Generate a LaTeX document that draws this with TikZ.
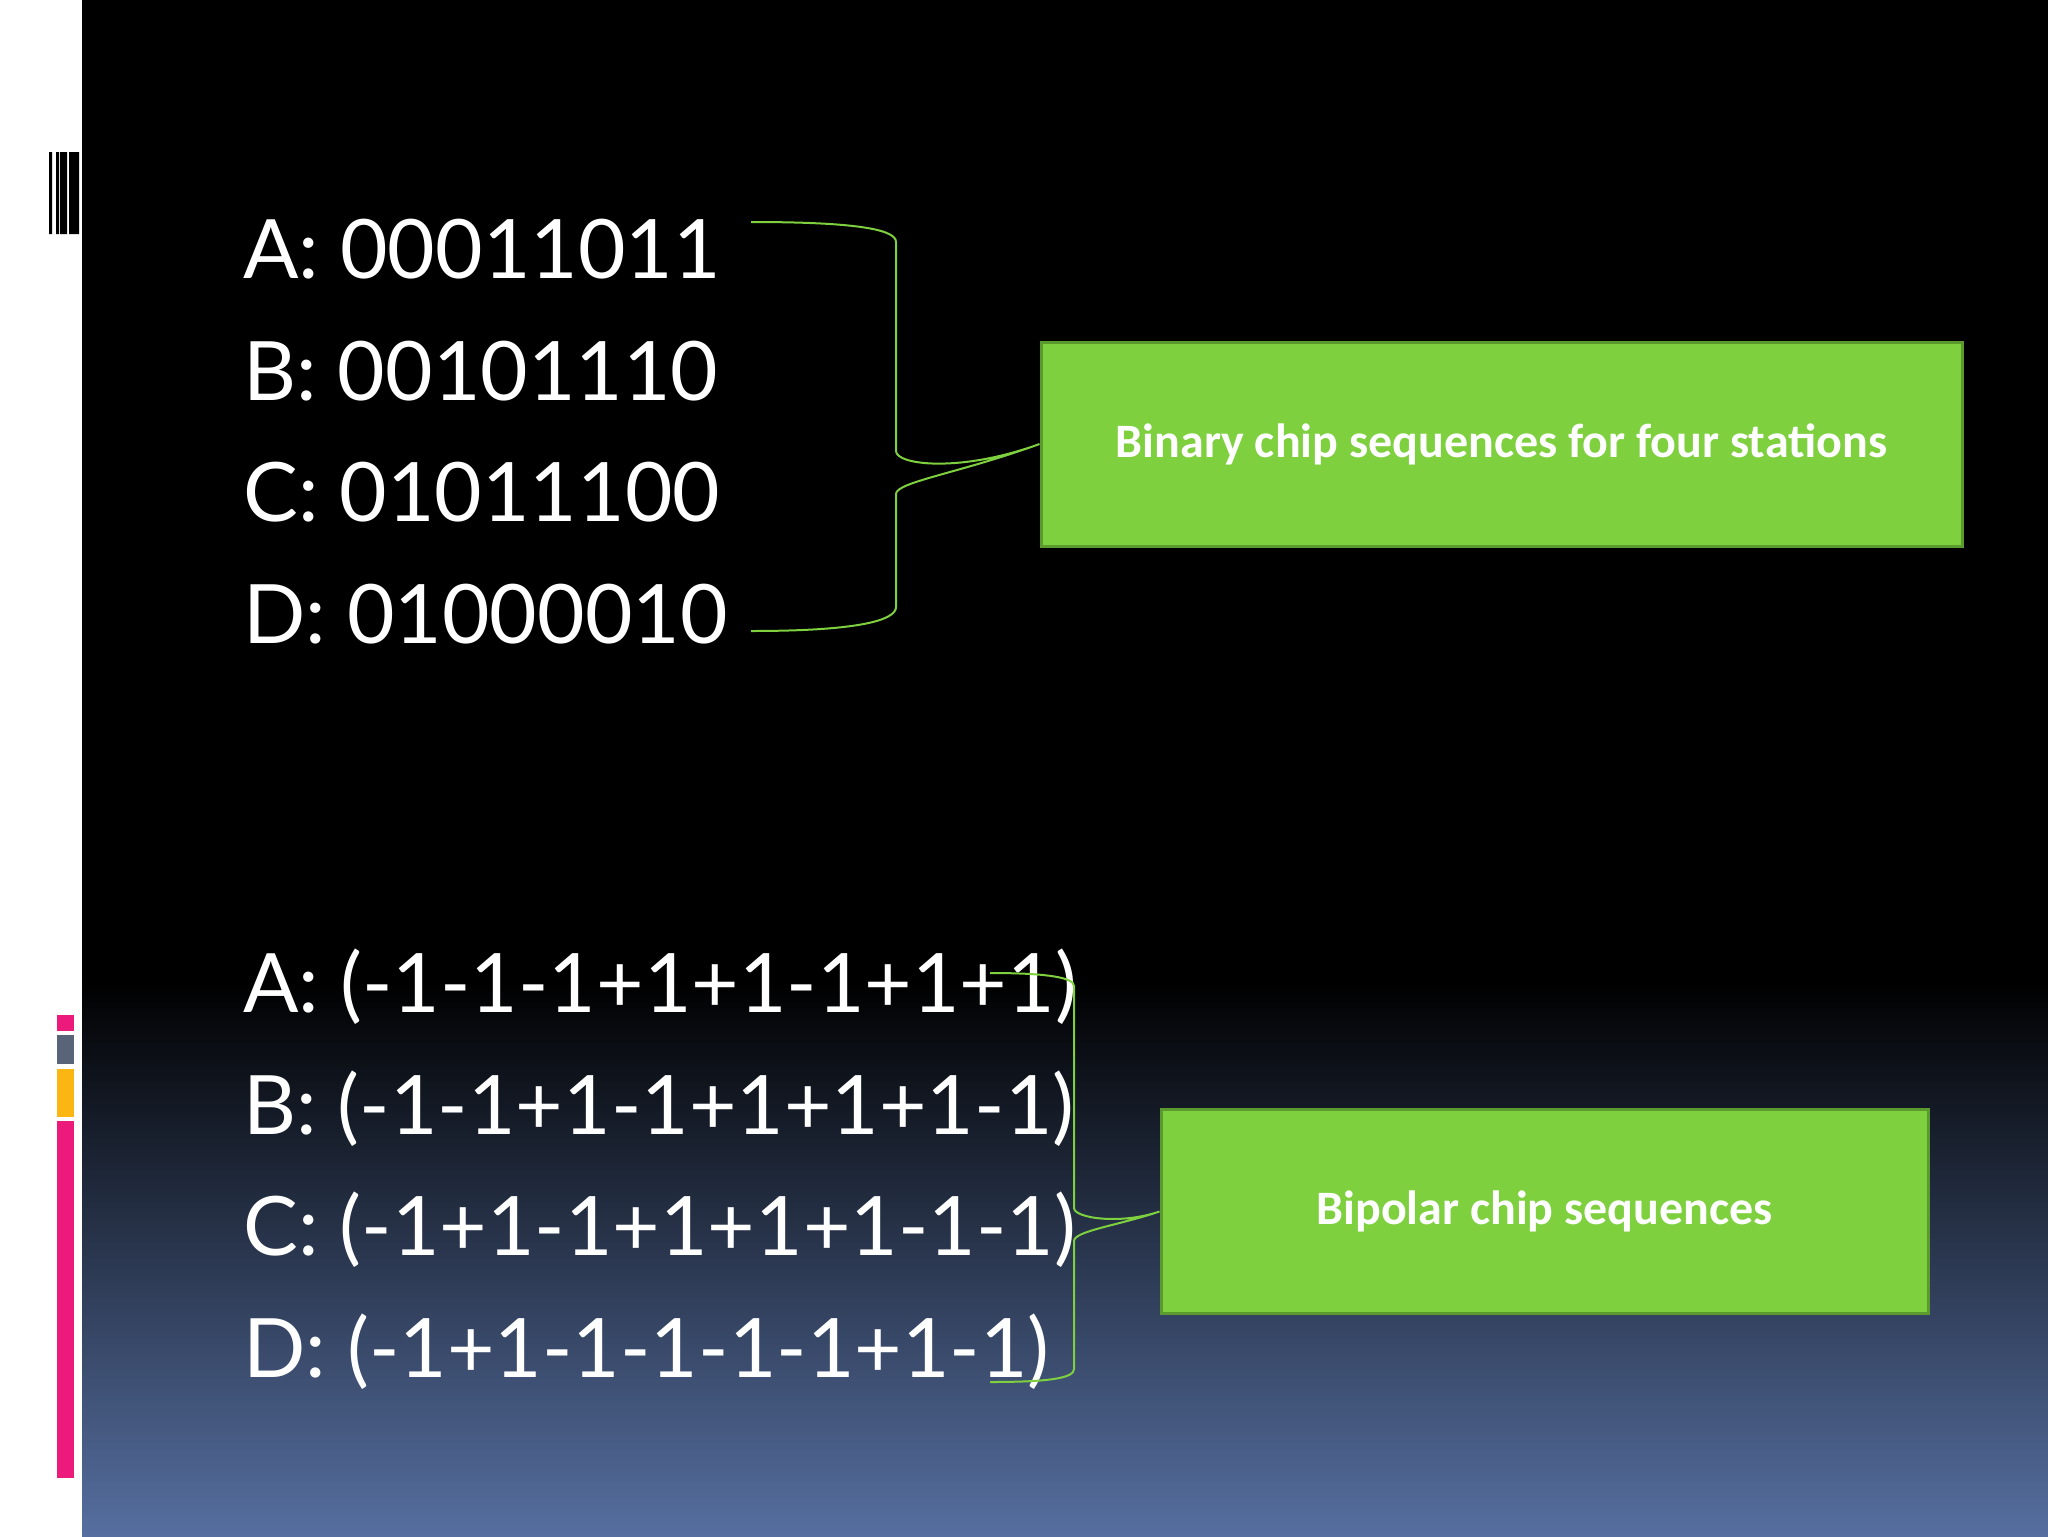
\documentclass[tikz,border=0pt]{standalone}
\usepackage{fontspec}
\setmainfont{Lato}
\newfontfamily\boxfont{Carlito}
\definecolor{gr}{HTML}{7ED03F}
\definecolor{grd}{HTML}{5A9A2E}
\definecolor{ln}{HTML}{7ED03F}
\definecolor{pk}{HTML}{EC1A7A}
\definecolor{gy}{HTML}{5A6478}
\definecolor{yl}{HTML}{FBB613}
\definecolor{bb}{HTML}{566FA0}
\begin{document}
\begin{tikzpicture}[x=0.5pt,y=-0.5pt,
  seq/.style={anchor=base west,text=white,font=\fontsize{41}{41}\selectfont,inner sep=0},
  box/.style={draw=grd,line width=1.5pt,fill=gr,text=white,font=\boxfont\bfseries\fontsize{24}{24}\selectfont,minimum width=#1,minimum height=102pt,inner sep=0},
  br/.style={draw=ln,line width=1pt}]
\useasboundingbox (0,0) rectangle (2048,1536);
\fill[white] (0,0) rectangle (82,1536);
\fill[black] (82,0) rectangle (2048,981);
\shade[top color=black,bottom color=bb] (82,980) rectangle (2048,1536);
\fill[black] (49,152) rectangle (52,234) (56,152) rectangle (59,234) (60,152) rectangle (67,234) (69,152) rectangle (79,234);
\fill[pk] (57,1015) rectangle (74,1031);
\fill[gy] (57,1035) rectangle (74,1064);
\fill[yl] (57,1069) rectangle (74,1117);
\fill[pk] (57,1121) rectangle (74,1478);
\node[seq] (a1) at (243,278) {A: 00011011};
\node[seq] (b1) at (243,400) {B: 00101110};
\node[seq] (c1) at (243,521) {C: 01011100};
\node[seq] (d1) at (243,643) {D: 01000010};
\node[seq] (a2) at (243,1012) {A: (-1-1-1+1+1-1+1+1)};
\node[seq] (b2) at (243,1134) {B: (-1-1+1-1+1+1+1-1)};
\node[seq] (c2) at (243,1255) {C: (-1+1-1+1+1+1-1-1)};
\node[seq] (d2) at (243,1377) {D: (-1+1-1-1-1-1+1-1)};
\node[box=460.5pt] (p) at (1501.5,444) {Binary chip sequences for four stations};
\node[box=383.5pt] (q) at (1544.5,1211.5) {Bipolar chip sequences};
\coordinate (t1) at (751,222); \coordinate (e1) at (751,631);
\coordinate (t2) at (990,973); \coordinate (e2) at (990,1382);
\draw[br] (t1) .. controls (860,222) and (896,230) .. (896,242) -- (896,451)
  .. controls (896,465) and (960,473) .. (p.west)
  .. controls (960,473) and (896,482) .. (896,494) -- (896,607)
  .. controls (896,620) and (860,631) .. (e1);
\draw[br] (t2) .. controls (1050,973) and (1074,978) .. (1074,986) -- (1074,1208)
  .. controls (1074,1218) and (1120,1225) .. (q.west)
  .. controls (1120,1225) and (1074,1231) .. (1074,1241) -- (1074,1369)
  .. controls (1074,1378) and (1050,1382) .. (e2);
\end{tikzpicture}
\end{document}
